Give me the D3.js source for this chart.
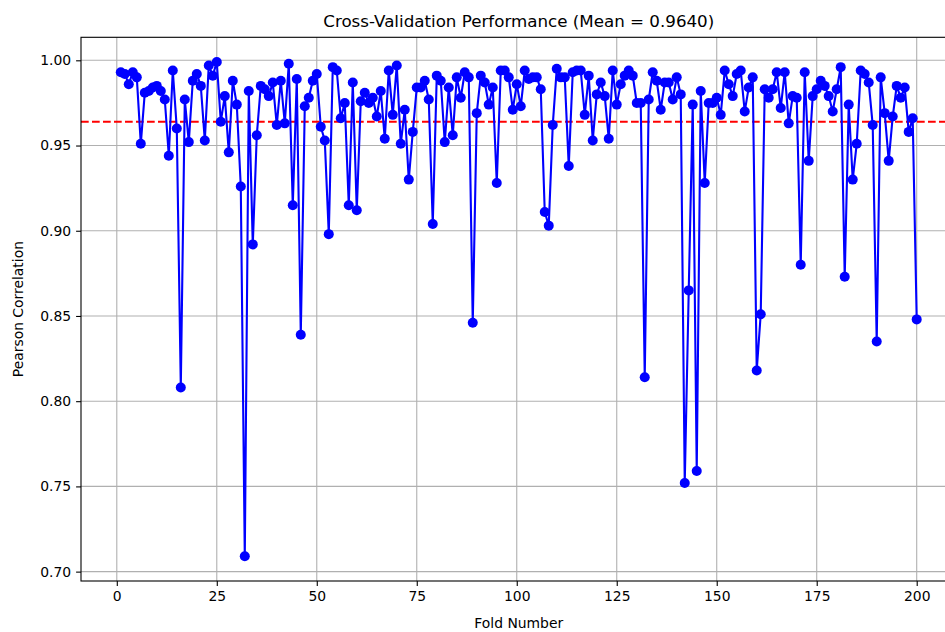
<!DOCTYPE html>
<html>
<head>
<meta charset="utf-8">
<title>Cross-Validation Performance</title>
<script src="https://cdn.jsdelivr.net/npm/d3@7"></script>
<style>
  body { margin: 0; background: #fff; }
  svg { display: block; font-family: "DejaVu Sans", sans-serif; }
</style>
</head>
<body>
<svg id="chart" width="945" height="632"></svg>
<script>
// fold scores, folds 1..200
var folds = d3.range(1, 201);
var scores = [
  0.993, 0.992, 0.986, 0.993, 0.990, 0.951, 0.981, 0.982, 0.984, 0.985,
  0.982, 0.977, 0.944, 0.994, 0.960, 0.808, 0.977, 0.952, 0.988, 0.992,
  0.985, 0.953, 0.997, 0.991, 0.999, 0.964, 0.979, 0.946, 0.988, 0.974,
  0.926, 0.709, 0.982, 0.892, 0.956, 0.985, 0.983, 0.979, 0.987, 0.962,
  0.988, 0.963, 0.998, 0.915, 0.989, 0.839, 0.973, 0.978, 0.988, 0.992,
  0.961, 0.953, 0.898, 0.996, 0.994, 0.966, 0.975, 0.915, 0.987, 0.912,
  0.976, 0.981, 0.975, 0.978, 0.967, 0.982, 0.954, 0.994, 0.968, 0.997,
  0.951, 0.971, 0.930, 0.958, 0.984, 0.984, 0.988, 0.977, 0.904, 0.991,
  0.988, 0.952, 0.984, 0.956, 0.990, 0.978, 0.993, 0.990, 0.846, 0.969,
  0.991, 0.987, 0.974, 0.984, 0.928, 0.994, 0.994, 0.990, 0.971, 0.986,
  0.973, 0.994, 0.989, 0.990, 0.990, 0.983, 0.911, 0.903, 0.962, 0.995,
  0.990, 0.990, 0.938, 0.993, 0.994, 0.994, 0.968, 0.991, 0.953, 0.980,
  0.987, 0.979, 0.954, 0.994, 0.974, 0.986, 0.991, 0.994, 0.991, 0.975,
  0.975, 0.814, 0.977, 0.993, 0.988, 0.971, 0.987, 0.987, 0.977, 0.990,
  0.980, 0.752, 0.865, 0.974, 0.759, 0.982, 0.928, 0.975, 0.975, 0.978,
  0.968, 0.994, 0.986, 0.979, 0.992, 0.994, 0.970, 0.984, 0.990, 0.818,
  0.851, 0.983, 0.978, 0.983, 0.993, 0.972, 0.993, 0.963, 0.979, 0.978,
  0.880, 0.993, 0.941, 0.979, 0.983, 0.988, 0.985, 0.979, 0.970, 0.983,
  0.996, 0.873, 0.974, 0.930, 0.951, 0.994, 0.992, 0.987, 0.962, 0.835,
  0.990, 0.969, 0.941, 0.967, 0.985, 0.978, 0.984, 0.958, 0.966, 0.848
];
var meanScore = 0.9640;
var xTicks = [0, 25, 50, 75, 100, 125, 150, 175, 200];
var yTicks = [0.70, 0.75, 0.80, 0.85, 0.90, 0.95, 1.00];
var titleText = 'Cross-Validation Performance (Mean = 0.9640)';

var svg = d3.select('#chart');

// axes box (right edge runs past the picture like the original)
var box = { left: 81, right: 956.5, top: 37.3, bottom: 581 };

// matplotlib-style 5% padding around the data
var xExt = d3.extent(folds), yExt = d3.extent(scores);
var xPad = (xExt[1] - xExt[0]) * 0.05, yPad = (yExt[1] - yExt[0]) * 0.05;

var x = d3.scaleLinear().domain([xExt[0] - xPad, xExt[1] + xPad]).range([box.left, box.right]);
var y = d3.scaleLinear().domain([yExt[0] - yPad, yExt[1] + yPad]).range([box.bottom, box.top]);

var plot = svg.append('g');

// grid
plot.selectAll('.vgrid').data(xTicks).enter().append('line')
  .attr('x1', d => x(d)).attr('x2', d => x(d))
  .attr('y1', box.top).attr('y2', box.bottom)
  .attr('stroke', '#b0b0b0').attr('stroke-width', 1.1);
plot.selectAll('.hgrid').data(yTicks).enter().append('line')
  .attr('x1', box.left).attr('x2', box.right)
  .attr('y1', d => y(d)).attr('y2', d => y(d))
  .attr('stroke', '#b0b0b0').attr('stroke-width', 1.1);

// mean line
plot.append('line')
  .attr('x1', box.left).attr('x2', box.right)
  .attr('y1', y(meanScore)).attr('y2', y(meanScore))
  .attr('stroke', '#ff0000').attr('stroke-width', 2.08)
  .attr('stroke-dasharray', '7.7,3.3');

// series
var line = d3.line().x((d, i) => x(folds[i])).y(d => y(d));
plot.append('path').datum(scores)
  .attr('d', line)
  .attr('fill', 'none').attr('stroke', '#0000ff')
  .attr('stroke-width', 2.1).attr('stroke-linejoin', 'round');

plot.selectAll('circle').data(scores).enter().append('circle')
  .attr('cx', (d, i) => x(folds[i]))
  .attr('cy', d => y(d))
  .attr('r', 5)
  .attr('fill', '#0000ff');

// axes
var xAxis = d3.axisBottom(x).tickValues(xTicks).tickSize(4.9).tickPadding(4.9).tickFormat(d3.format('d'));
var yAxis = d3.axisLeft(y).tickValues(yTicks).tickSize(4.9).tickPadding(4.9).tickFormat(d3.format('.2f'));

var gx = svg.append('g').attr('transform', 'translate(0,' + box.bottom + ')').call(xAxis);
var gy = svg.append('g').attr('transform', 'translate(' + box.left + ',0)').call(yAxis);

[gx, gy].forEach(function (g) {
  g.select('.domain').remove();
  g.selectAll('.tick line').attr('stroke', '#000').attr('stroke-width', 1.1);
  g.selectAll('.tick text').attr('fill', '#000').style('font-size', '13.9px')
    .style('font-family', '"DejaVu Sans", sans-serif');
});

// spines
svg.append('rect')
  .attr('x', box.left).attr('y', box.top)
  .attr('width', box.right - box.left).attr('height', box.bottom - box.top)
  .attr('fill', 'none').attr('stroke', '#000').attr('stroke-width', 1.1);

// labels
svg.append('text')
  .attr('x', (box.left + box.right) / 2).attr('y', 27)
  .attr('text-anchor', 'middle')
  .style('font-size', '16.7px')
  .text(titleText);

svg.append('text')
  .attr('x', (box.left + box.right) / 2).attr('y', 628)
  .attr('text-anchor', 'middle')
  .style('font-size', '13.9px')
  .text('Fold Number');

svg.append('text')
  .attr('transform', 'translate(23,' + (box.top + box.bottom) / 2 + ') rotate(-90)')
  .attr('text-anchor', 'middle')
  .style('font-size', '13.9px')
  .text('Pearson Correlation');
</script>
</body>
</html>
